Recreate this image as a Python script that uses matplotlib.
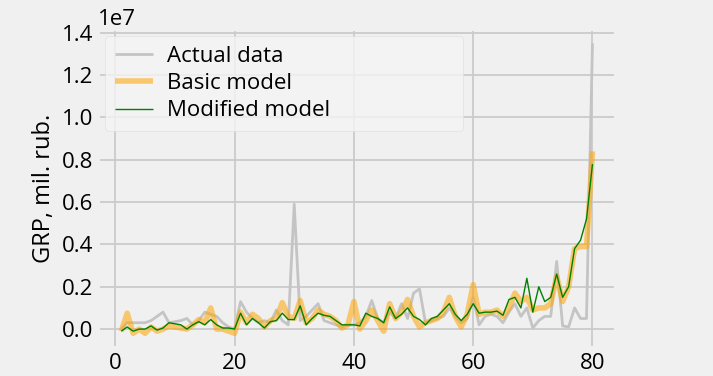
import numpy as np
import matplotlib
matplotlib.use("Agg")
import matplotlib.pyplot as plt

# values in millions of rubles, regions numbered 1..80
region = list(range(1, 81))
actual = [0.0, 0.3, 0.3, 0.3, 0.3, 0.4, 0.6, 0.8, 0.3, 0.35,
          0.4, 0.5, 0.2, 0.4, 0.8, 0.7, 0.6, 0.3, 0.1, 0.0,
          1.3, 0.8, 0.5, 0.3, 0.4, 0.3, 0.9, 0.4, 0.2, 5.9,
          0.4, 0.6, 0.9, 1.2, 0.4, 0.3, 0.2, 0.1, 0.2, 0.2,
          0.3, 0.6, 1.35, 0.5, 0.3, 0.8, 0.5, 1.2, 0.5, 1.7,
          1.9, 0.3, 0.4, 0.5, 0.6, 1.0, 0.6, 0.3, 0.5, 1.5,
          0.2, 0.6, 0.7, 0.6, 0.3, 0.8, 1.2, 0.6, 1.0, 0.05,
          0.4, 0.6, 0.6, 3.2, 0.15, 0.1, 1.0, 0.5, 0.5, 13.5]
basic = [-0.1, 0.75, -0.2, 0.0, -0.2, 0.1, -0.1, 0.0, 0.15, 0.1,
         0.05, 0.0, 0.2, 0.45, 0.3, 1.0, 0.0, 0.0, -0.1, -0.2,
         0.8, 0.3, 0.7, 0.5, 0.1, 0.4, 0.5, 1.25, 0.6, 0.5,
         1.35, 0.3, 0.5, 0.9, 0.7, 0.6, 0.4, 0.05, 0.2, 1.3,
         0.0, 0.4, 0.9, 0.4, -0.1, 1.2, 0.5, 0.8, 1.4, 0.6,
         0.1, 0.3, 0.4, 0.5, 0.8, 1.5, 0.6, 0.1, 0.7, 2.1,
         0.7, 0.8, 0.8, 0.9, 0.6, 1.0, 1.7, 1.3, 1.5, 0.9,
         1.0, 1.0, 1.2, 2.5, 1.3, 2.0, 3.8, 3.9, 3.9, 8.4]
modified = [-0.1, 0.1, -0.1, 0.0, 0.0, 0.15, -0.05, 0.05, 0.3, 0.25,
            0.2, 0.0, 0.2, 0.35, 0.2, 0.45, 0.2, 0.05, 0.05, 0.0,
            0.75, 0.2, 0.5, 0.3, 0.05, 0.35, 0.4, 0.75, 0.45, 0.45,
            1.1, 0.2, 0.5, 0.75, 0.65, 0.6, 0.4, 0.2, 0.2, 0.2,
            0.15, 0.75, 0.6, 0.5, 0.3, 1.05, 0.5, 0.7, 1.0, 0.6,
            0.45, 0.2, 0.5, 0.6, 0.9, 1.2, 0.7, 0.4, 0.7, 1.2,
            0.75, 0.8, 0.8, 0.85, 0.65, 1.4, 1.5, 1.0, 2.4, 0.8,
            2.0, 1.3, 1.5, 2.6, 1.5, 2.0, 3.8, 4.2, 5.2, 7.8]

plt.style.use("fivethirtyeight")
plt.rcParams["font.family"] = ["Open Sans", "DejaVu Sans"]

fig = plt.figure(figsize=(7.13, 3.76), dpi=100)
fig.patch.set_facecolor("#f0f0f0")
ax = fig.add_axes([0.137, 0.075, 0.727, 0.848])
ax.set_facecolor("#f0f0f0")

x = np.array(region)
ax.plot(x, np.array(actual) * 1e6, color="#c4c4c4", lw=2, label="Actual data")
ax.plot(x, np.array(basic) * 1e6, color="orange", alpha=0.55, lw=4, label="Basic model")
ax.plot(x, np.array(modified) * 1e6, color="green", lw=1, label="Modified model")

ax.set_xticks([0, 20, 40, 60, 80])
ax.set_yticks(np.arange(0, 1.41e7, 0.2e7))
ax.tick_params(labelsize=16)
ax.yaxis.get_offset_text().set_fontsize(16)
ax.set_ylabel("GRP, mil. rub.", fontsize=17)
ax.grid(color="#cbcbcb", lw=1.3)

leg = ax.legend(loc="upper left", fontsize=16, handlelength=1.7, handletextpad=0.6,
                borderpad=0.45, labelspacing=0.28, frameon=True, mode="expand",
                borderaxespad=0, bbox_to_anchor=(0.015, 0.3, 0.69, 0.678))
leg.get_frame().set_facecolor("#f4f4f4")
leg.get_frame().set_edgecolor("#dddddd")

fig.savefig("out.png", dpi=100, facecolor=fig.get_facecolor())
